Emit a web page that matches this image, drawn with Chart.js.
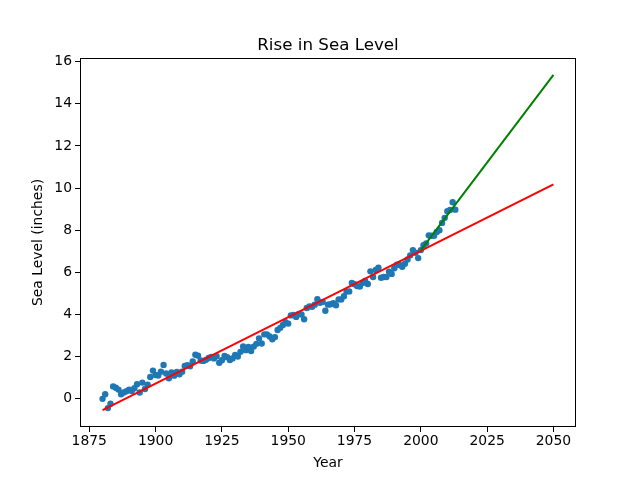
<!DOCTYPE html>
<html lang="en">
<head>
    <meta charset="UTF-8">
    <title>Rise in Sea Level</title>
    <script src="https://cdn.jsdelivr.net/npm/chart.js@4"></script>
    <style>
        body { margin: 0; background: #fff; }
    </style>
</head>
<body>
    <canvas id="grafico" width="640" height="480"></canvas>
<script>
    // anos e nivel do mar (polegadas)
    const years = [];
    for (let y = 1880; y <= 2013; y++) years.push(y);
    const seaLevel = [
        0.00, 0.22, -0.44, -0.23, 0.59, 0.53, 0.44, 0.22, 0.30, 0.36,
        0.44, 0.37, 0.50, 0.69, 0.30, 0.77, 0.47, 0.67, 1.04, 1.34,
        1.13, 1.11, 1.29, 1.61, 1.20, 0.98, 1.25, 1.10, 1.28, 1.17,
        1.29, 1.56, 1.60, 1.55, 1.77, 2.09, 2.05, 1.82, 1.80, 1.85,
        1.94, 1.99, 1.92, 2.02, 1.71, 1.83, 2.04, 1.98, 1.84, 1.92,
        2.08, 2.01, 2.23, 2.49, 2.31, 2.46, 2.27, 2.48, 2.61, 2.87,
        2.63, 3.06, 3.06, 2.96, 2.83, 2.93, 3.27, 3.37, 3.51, 3.64,
        3.57, 3.96, 3.98, 3.89, 4.03, 4.00, 3.78, 4.31, 4.39, 4.37,
        4.47, 4.73, 4.56, 4.60, 4.18, 4.47, 4.49, 4.54, 4.44, 4.72,
        4.72, 4.87, 5.09, 5.10, 5.50, 5.44, 5.35, 5.33, 5.50, 5.59,
        5.45, 6.05, 5.78, 6.12, 6.22, 5.75, 5.78, 5.78, 6.04, 5.93,
        6.20, 6.37, 6.35, 6.27, 6.41, 6.61, 6.81, 7.06, 6.93, 6.68,
        7.06, 7.29, 7.38, 7.76, 7.74, 7.74, 7.92, 8.00, 8.35, 8.59,
        8.90, 8.96, 9.33, 8.98
    ];

    // retas de tendencia (pontos extremos)
    const fitAllX = [1880, 2050];
    const fitAllY = [-0.54, 10.18];
    const fitRecentX = [2000, 2050];
    const fitRecentY = [7.06, 15.38];

    const xTicks = [1875, 1900, 1925, 1950, 1975, 2000, 2025, 2050];
    const yTicks = [0, 2, 4, 6, 8, 10, 12, 14, 16];

    const titulo = 'Rise in Sea Level';

    const toPts = (xs, ys) => xs.map((x, i) => ({ x: x, y: ys[i] }));

    // moldura completa + titulo centrado sobre a area do grafico
    const caixa = {
        id: 'caixa',
        afterDraw(chart) {
            const a = chart.chartArea;
            const ctx = chart.ctx;
            ctx.save();
            ctx.strokeStyle = '#000';
            ctx.lineWidth = 1;
            ctx.strokeRect(Math.round(a.left) + 0.5, Math.round(a.top) + 0.5,
                Math.round(a.right - a.left) - 1, Math.round(a.bottom - a.top) - 1);
            ctx.fillStyle = '#000';
            ctx.font = '16.7px "DejaVu Sans"';
            ctx.textAlign = 'center';
            ctx.textBaseline = 'alphabetic';
            ctx.fillText(titulo, (a.left + a.right) / 2, a.top - 8);
            ctx.restore();
        }
    };

    const fonte = { family: 'DejaVu Sans', size: 13.9 };

    const config = {
        type: 'scatter',
        data: {
            datasets: [
                {
                    data: toPts(years, seaLevel),
                    backgroundColor: '#1f77b4',
                    borderWidth: 0,
                    pointRadius: 3.2,
                    order: 3
                },
                {
                    data: toPts(fitAllX, fitAllY),
                    showLine: true,
                    borderColor: 'red',
                    borderWidth: 2,
                    pointRadius: 0,
                    order: 2
                },
                {
                    data: toPts(fitRecentX, fitRecentY),
                    showLine: true,
                    borderColor: 'green',
                    borderWidth: 2,
                    pointRadius: 0,
                    order: 1
                }
            ]
        },
        options: {
            responsive: false,
            animation: false,
            layout: { padding: { left: 0, right: 64, top: 58, bottom: 0 } },
            plugins: {
                legend: { display: false },
                tooltip: { enabled: false },
                title: { display: false }
            },
            scales: {
                x: {
                    type: 'linear',
                    min: 1871.5,
                    max: 2058.5,
                    afterBuildTicks: s => { s.ticks = xTicks.map(v => ({ value: v })); },
                    afterFit: s => { s.height = 53; },
                    grid: { display: true, drawOnChartArea: false, color: '#000', tickLength: 5 },
                    border: { display: false },
                    ticks: { color: '#000', font: fonte, padding: 1, maxRotation: 0, callback: v => String(v) },
                    title: { display: true, text: 'Year', color: '#000', font: fonte, padding: { top: 0, bottom: 8 } }
                },
                y: {
                    min: -1.336,
                    max: 16.176,
                    afterBuildTicks: s => { s.ticks = yTicks.map(v => ({ value: v })); },
                    afterFit: s => { s.width = 80; },
                    grid: { display: true, drawOnChartArea: false, color: '#000', tickLength: 5 },
                    border: { display: false },
                    ticks: { color: '#000', font: fonte, padding: 3, callback: v => String(v) },
                    title: { display: true, text: 'Sea Level (inches)', color: '#000', font: fonte, padding: { top: 30, bottom: 0 } }
                }
            }
        },
        plugins: [caixa]
    };

    const grafico = new Chart(document.getElementById('grafico'), config);
</script>
</body>
</html>
